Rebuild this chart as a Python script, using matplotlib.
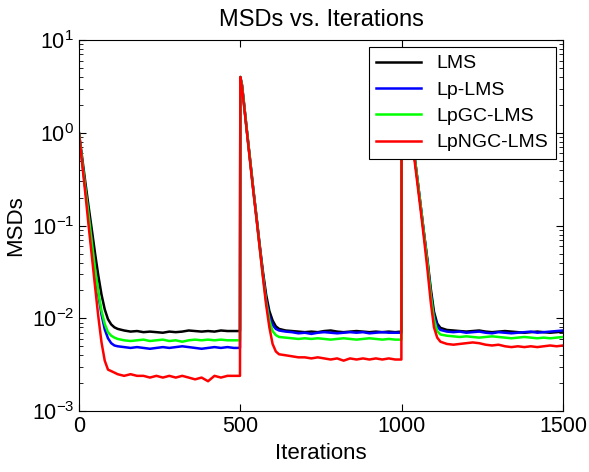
# MSDs vs. iterations, three abrupt changes of the system at 0, 500 and 1000

import matplotlib
matplotlib.use('Agg')
import matplotlib.pyplot as plt
from matplotlib.ticker import LogLocator, NullLocator

plt.rcParams['font.family'] = ['Liberation Sans', 'DejaVu Sans']
plt.rcParams['mathtext.fontset'] = 'custom'
plt.rcParams['mathtext.rm'] = 'Liberation Sans'

# sample grid (iterations) the values were read at
iters = (list(range(0, 121, 10)) + list(range(140, 481, 20)) + [499]
         + [500, 505] + list(range(510, 621, 10)) + list(range(640, 981, 20)) + [999]
         + [1000, 1005] + list(range(1010, 1121, 10)) + list(range(1140, 1501, 20)))

lms = [1.0, 0.54, 0.29, 0.16, 0.090, 0.050, 0.029, 0.018, 0.0125, 0.0098, 0.0086, 0.0080, 0.0077,
       0.0074, 0.0072, 0.0073, 0.0071, 0.0072, 0.0071, 0.0070, 0.0072, 0.0071, 0.0072, 0.0074, 0.0073,
       0.0072, 0.0073, 0.0072, 0.0074, 0.0073, 0.0073, 0.0073,
       4.0, 3.3, 2.3, 1.08, 0.52, 0.25, 0.125, 0.062, 0.032, 0.018, 0.012, 0.0095, 0.0082, 0.0077,
       0.0074, 0.0073, 0.0072, 0.0071, 0.0072, 0.0071, 0.0073, 0.0074, 0.0072, 0.0071, 0.0072, 0.0073,
       0.0072, 0.0071, 0.0072, 0.0071, 0.0072, 0.0071, 0.0072,
       6.0, 5.0, 3.6, 1.9, 1.0, 0.55, 0.29, 0.15, 0.078, 0.042, 0.021, 0.0118, 0.0088, 0.0079,
       0.0075, 0.0074, 0.0073, 0.0072, 0.0073, 0.0074, 0.0072, 0.0071, 0.0072, 0.0073, 0.0072, 0.0071,
       0.0070, 0.0071, 0.0072, 0.0071, 0.0070, 0.0071, 0.0072]

lp_lms = [1.0, 0.50, 0.25, 0.13, 0.066, 0.034, 0.018, 0.011, 0.0076, 0.0061, 0.0054, 0.0051, 0.0050,
          0.0049, 0.0048, 0.0049, 0.0048, 0.0047, 0.0048, 0.0049, 0.0048, 0.0049, 0.0050, 0.0049, 0.0048,
          0.0047, 0.0048, 0.0049, 0.0048, 0.0049, 0.0048, 0.0048,
          4.0, 3.3, 2.3, 1.08, 0.52, 0.25, 0.124, 0.060, 0.030, 0.016, 0.0105, 0.0085, 0.0077, 0.0074,
          0.0072, 0.0071, 0.0069, 0.0070, 0.0068, 0.0070, 0.0071, 0.0070, 0.0069, 0.0070, 0.0071, 0.0070,
          0.0071, 0.0069, 0.0070, 0.0071, 0.0070, 0.0070, 0.0070,
          6.0, 5.0, 3.6, 1.9, 1.0, 0.55, 0.29, 0.15, 0.077, 0.040, 0.019, 0.0108, 0.0082, 0.0075,
          0.0072, 0.0071, 0.0072, 0.0070, 0.0071, 0.0072, 0.0070, 0.0069, 0.0071, 0.0070, 0.0069, 0.0070,
          0.0071, 0.0072, 0.0070, 0.0071, 0.0072, 0.0073, 0.0074]

lpgc_lms = [1.0, 0.50, 0.25, 0.13, 0.066, 0.034, 0.019, 0.012, 0.0087, 0.0071, 0.0065, 0.0062, 0.0060,
            0.0058, 0.0057, 0.0058, 0.0059, 0.0057, 0.0058, 0.0059, 0.0057, 0.0058, 0.0056, 0.0058, 0.0059,
            0.0058, 0.0059, 0.0058, 0.0059, 0.0058, 0.0058, 0.0058,
            4.0, 3.3, 2.3, 1.08, 0.52, 0.25, 0.123, 0.059, 0.029, 0.015, 0.0095, 0.0073, 0.0066, 0.0063,
            0.0062, 0.0061, 0.0060, 0.0061, 0.0060, 0.0061, 0.0060, 0.0059, 0.0060, 0.0061, 0.0060, 0.0059,
            0.0060, 0.0061, 0.0060, 0.0059, 0.0060, 0.0059, 0.0059,
            6.0, 5.0, 3.6, 1.9, 1.0, 0.55, 0.29, 0.15, 0.076, 0.039, 0.018, 0.0098, 0.0073, 0.0067,
            0.0065, 0.0064, 0.0063, 0.0064, 0.0063, 0.0062, 0.0063, 0.0064, 0.0063, 0.0062, 0.0061, 0.0062,
            0.0063, 0.0062, 0.0061, 0.0062, 0.0061, 0.0062, 0.0063]

lpngc_lms = [1.0, 0.47, 0.22, 0.10, 0.047, 0.022, 0.0105, 0.0055, 0.0035, 0.0028, 0.0027, 0.0026, 0.0025,
             0.0024, 0.0025, 0.0024, 0.0024, 0.0023, 0.0024, 0.0023, 0.0024, 0.0023, 0.0024, 0.0023, 0.0022,
             0.0023, 0.0021, 0.0024, 0.0023, 0.0024, 0.0024, 0.0024,
             4.0, 3.2, 2.2, 1.05, 0.50, 0.24, 0.12, 0.058, 0.028, 0.014, 0.0080, 0.0053, 0.0044, 0.0041,
             0.0040, 0.0039, 0.0038, 0.0038, 0.0037, 0.0038, 0.0037, 0.0036, 0.0037, 0.0035, 0.0037, 0.0036,
             0.0037, 0.0036, 0.0037, 0.0036, 0.0037, 0.0036, 0.0036,
             6.0, 4.8, 3.4, 1.8, 0.95, 0.50, 0.26, 0.135, 0.068, 0.033, 0.015, 0.0080, 0.0062, 0.0056,
             0.0053, 0.0052, 0.0053, 0.0054, 0.0055, 0.0054, 0.0052, 0.0051, 0.0052, 0.0050, 0.0049, 0.0050,
             0.0049, 0.0050, 0.0049, 0.0050, 0.0051, 0.0050, 0.0051]

labels = ['LMS', 'Lp-LMS', 'LpGC-LMS', 'LpNGC-LMS']
colors = ['black', 'blue', 'lime', 'red']

fig = plt.figure(figsize=(5.89, 4.72), dpi=100)
ax = fig.add_axes([0.134, 0.129, 0.822, 0.786])

for vals, lab, col in zip([lms, lp_lms, lpgc_lms, lpngc_lms], labels, colors):
    ax.plot(iters, vals, color=col, lw=1.8, label=lab)

ax.set_yscale('log')
ax.set_xlim(0, 1500)
ax.set_ylim(1e-3, 1e1)
ax.set_xticks([0, 500, 1000, 1500])
ax.yaxis.set_major_locator(LogLocator(base=10, numticks=10))
ax.yaxis.set_minor_locator(LogLocator(base=10, subs=range(2, 10), numticks=10))
ax.xaxis.set_minor_locator(NullLocator())
ax.tick_params(which='both', direction='in', top=True, right=True, labelsize=15.5)
ax.tick_params(which='major', length=5)
ax.tick_params(which='minor', length=3)

ax.set_title('MSDs vs. Iterations', fontsize=17, pad=10)
ax.set_xlabel('Iterations', fontsize=16, labelpad=4)
ax.set_ylabel('MSDs', fontsize=16)

leg = ax.legend(loc='upper right', fontsize=14, fancybox=False, framealpha=1,
                edgecolor='black', handlelength=2.3, labelspacing=0.45,
                borderaxespad=0.35)
leg.get_frame().set_linewidth(0.8)

fig.savefig('out.png', dpi=100)
